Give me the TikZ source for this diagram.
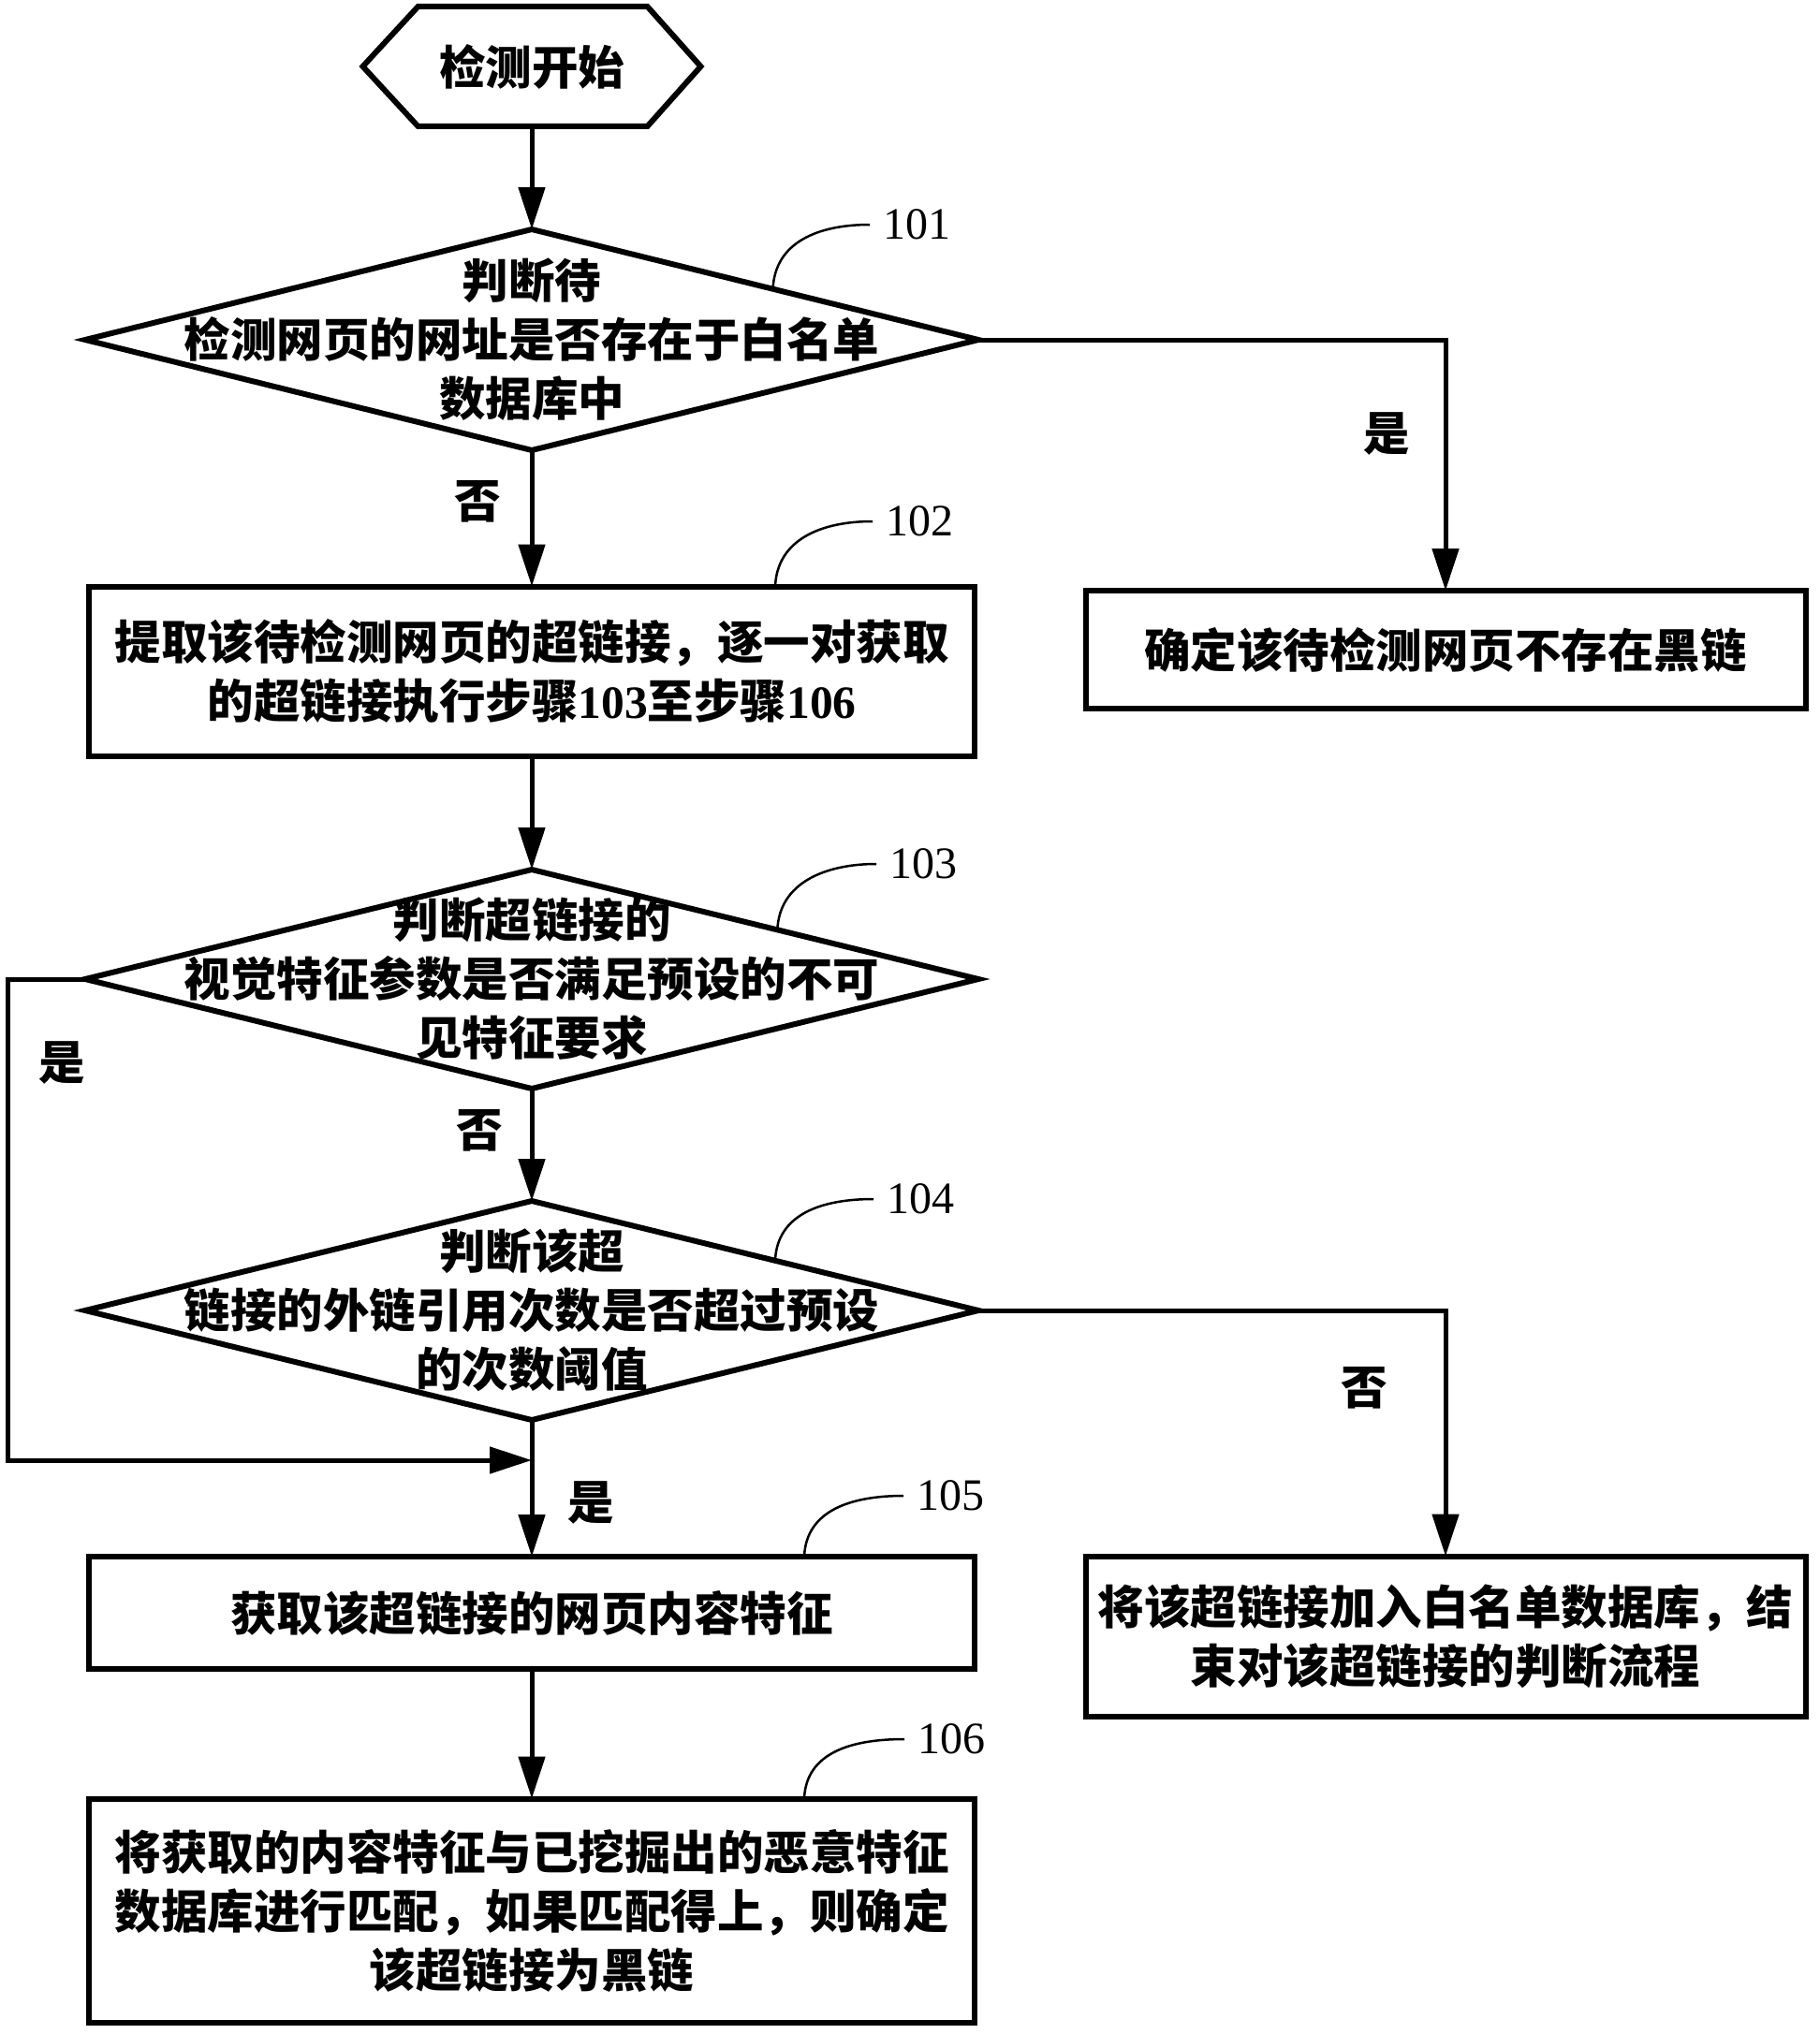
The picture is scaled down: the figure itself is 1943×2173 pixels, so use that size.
\documentclass[tikz,border=0pt]{standalone}
\usepackage{fontspec}
\newfontfamily\cjk{Noto Sans CJK SC}
\newfontfamily\latr{Liberation Serif}
\usetikzlibrary{shapes.geometric,arrows.meta,calc}
\begin{document}
\begin{tikzpicture}[x=1pt,y=-1pt,
  every node/.style={inner sep=0pt,outer sep=0pt},
  txt/.style={font=\cjk\bfseries\fontsize{49.5}{63}\selectfont,align=center},
  num/.style={font=\latr\fontsize{48}{56}\selectfont,anchor=west},
  procbox/.style={draw,line width=6pt,rectangle,minimum width=946pt,txt},
  sidebox/.style={draw,line width=6pt,rectangle,minimum width=769pt,txt},
  dia/.style={diamond,draw,line width=6pt,minimum width=954pt,minimum height=236pt},
  arr/.style={-{Triangle[length=45pt,width=28pt]},line width=5pt},
  lead/.style={line width=2.5pt},
  hexline/.style={line width=6pt}]
\useasboundingbox (0,0) rectangle (1943,2173);

% start hexagon
\node[txt,minimum width=361pt,minimum height=128pt] (start) at (568,71) {检测开始};
\draw[hexline] (start.west) -- ($(start.north west)+(59,0)$) -- ($(start.north east)+(-57,0)$)
  -- (start.east) -- ($(start.south east)+(-57,0)$) -- ($(start.south west)+(59,0)$) -- cycle;

% decision 101
\node[dia] (d1) at (568,363) {};
\node[txt] (t1) at (d1.center) {判断待\\检测网页的网址是否存在于白名单\\数据库中};

% step 102
\node[procbox,minimum height=181pt] (b102) at (568,717)
  {提取该待检测网页的超链接，逐一对获取\\的超链接执行步骤{\latr\bfseries 103}至步骤{\latr\bfseries 106}};

% decision 103
\node[dia,minimum height=234pt] (d103) at (568,1046) {};
\node[txt] (t103) at (d103.center) {判断超链接的\\视觉特征参数是否满足预设的不可\\见特征要求};

% decision 104
\node[dia,minimum height=234pt] (d104) at (568,1400) {};
\node[txt] (t104) at (d104.center) {判断该超\\链接的外链引用次数是否超过预设\\的次数阈值};

% step 105
\node[procbox,minimum height=120pt] (b105) at (568,1723) {获取该超链接的网页内容特征};

% step 106
\node[procbox,minimum height=239pt] (b106) at (568,2041)
  {将获取的内容特征与已挖掘出的恶意特征\\数据库进行匹配，如果匹配得上，则确定\\该超链接为黑链};

% side boxes
\node[sidebox,minimum height=126pt] (r1) at (1544,694) {确定该待检测网页不存在黑链};
\node[sidebox,minimum height=171pt] (r2) at (1544,1748) {将该超链接加入白名单数据库，结\\束对该超链接的判断流程};

% connectors
\coordinate (j) at (568,1560);
\draw[arr] (start.south) -- (d1.north);
\draw[arr] (d1.south) -- (b102.north);
\draw[arr] (d1.east) -| (r1.north);
\draw[arr] (b102.south) -- (d103.north);
\draw[arr] (d103.south) -- (d104.north);
\draw[arr] (d103.west) -- ++(-83,0) |- (j);
\draw[arr] (d104.south) -- (b105.north);
\draw[arr] (d104.east) -| (r2.north);
\draw[arr] (b105.south) -- (b106.north);

% branch labels
\node[txt] (y1) at (1481,463) {是};
\node[txt] (n1) at (510,536) {否};
\node[txt] (y2) at (66,1135) {是};
\node[txt] (n2) at (512,1208) {否};
\node[txt] (n3) at (1457,1483) {否};
\node[txt] (y3) at (631,1605) {是};

% step numbers with leader curves
\node[num] (l101) at (943,240) {101};
\node[num] (l102) at (946,557) {102};
\node[num] (l103) at (950,923) {103};
\node[num] (l104) at (947,1281) {104};
\node[num] (l105) at (979,1598) {105};
\node[num] (l106) at (980,1858) {106};

\coordinate (s101) at ($(d1.north)!0.54!(d1.east)$);
\coordinate (s102) at ([xshift=260pt]b102.north);
\coordinate (s103) at ($(d103.north)!0.55!(d103.east)$);
\coordinate (s104) at ($(d104.north)!0.545!(d104.east)$);
\coordinate (s105) at ([xshift=291pt]b105.north);
\coordinate (s106) at ([xshift=291pt]b106.north);

\draw[lead] (s101) .. controls +(2,-50) and +(-55,0) .. ([xshift=-14pt]l101.west);
\draw[lead] (s102) .. controls +(2,-50) and +(-55,0) .. ([xshift=-14pt]l102.west);
\draw[lead] (s103) .. controls +(2,-50) and +(-55,0) .. ([xshift=-14pt]l103.west);
\draw[lead] (s104) .. controls +(2,-50) and +(-55,0) .. ([xshift=-14pt]l104.west);
\draw[lead] (s105) .. controls +(2,-50) and +(-55,0) .. ([xshift=-14pt]l105.west);
\draw[lead] (s106) .. controls +(2,-50) and +(-55,0) .. ([xshift=-14pt]l106.west);
\end{tikzpicture}
\end{document}
